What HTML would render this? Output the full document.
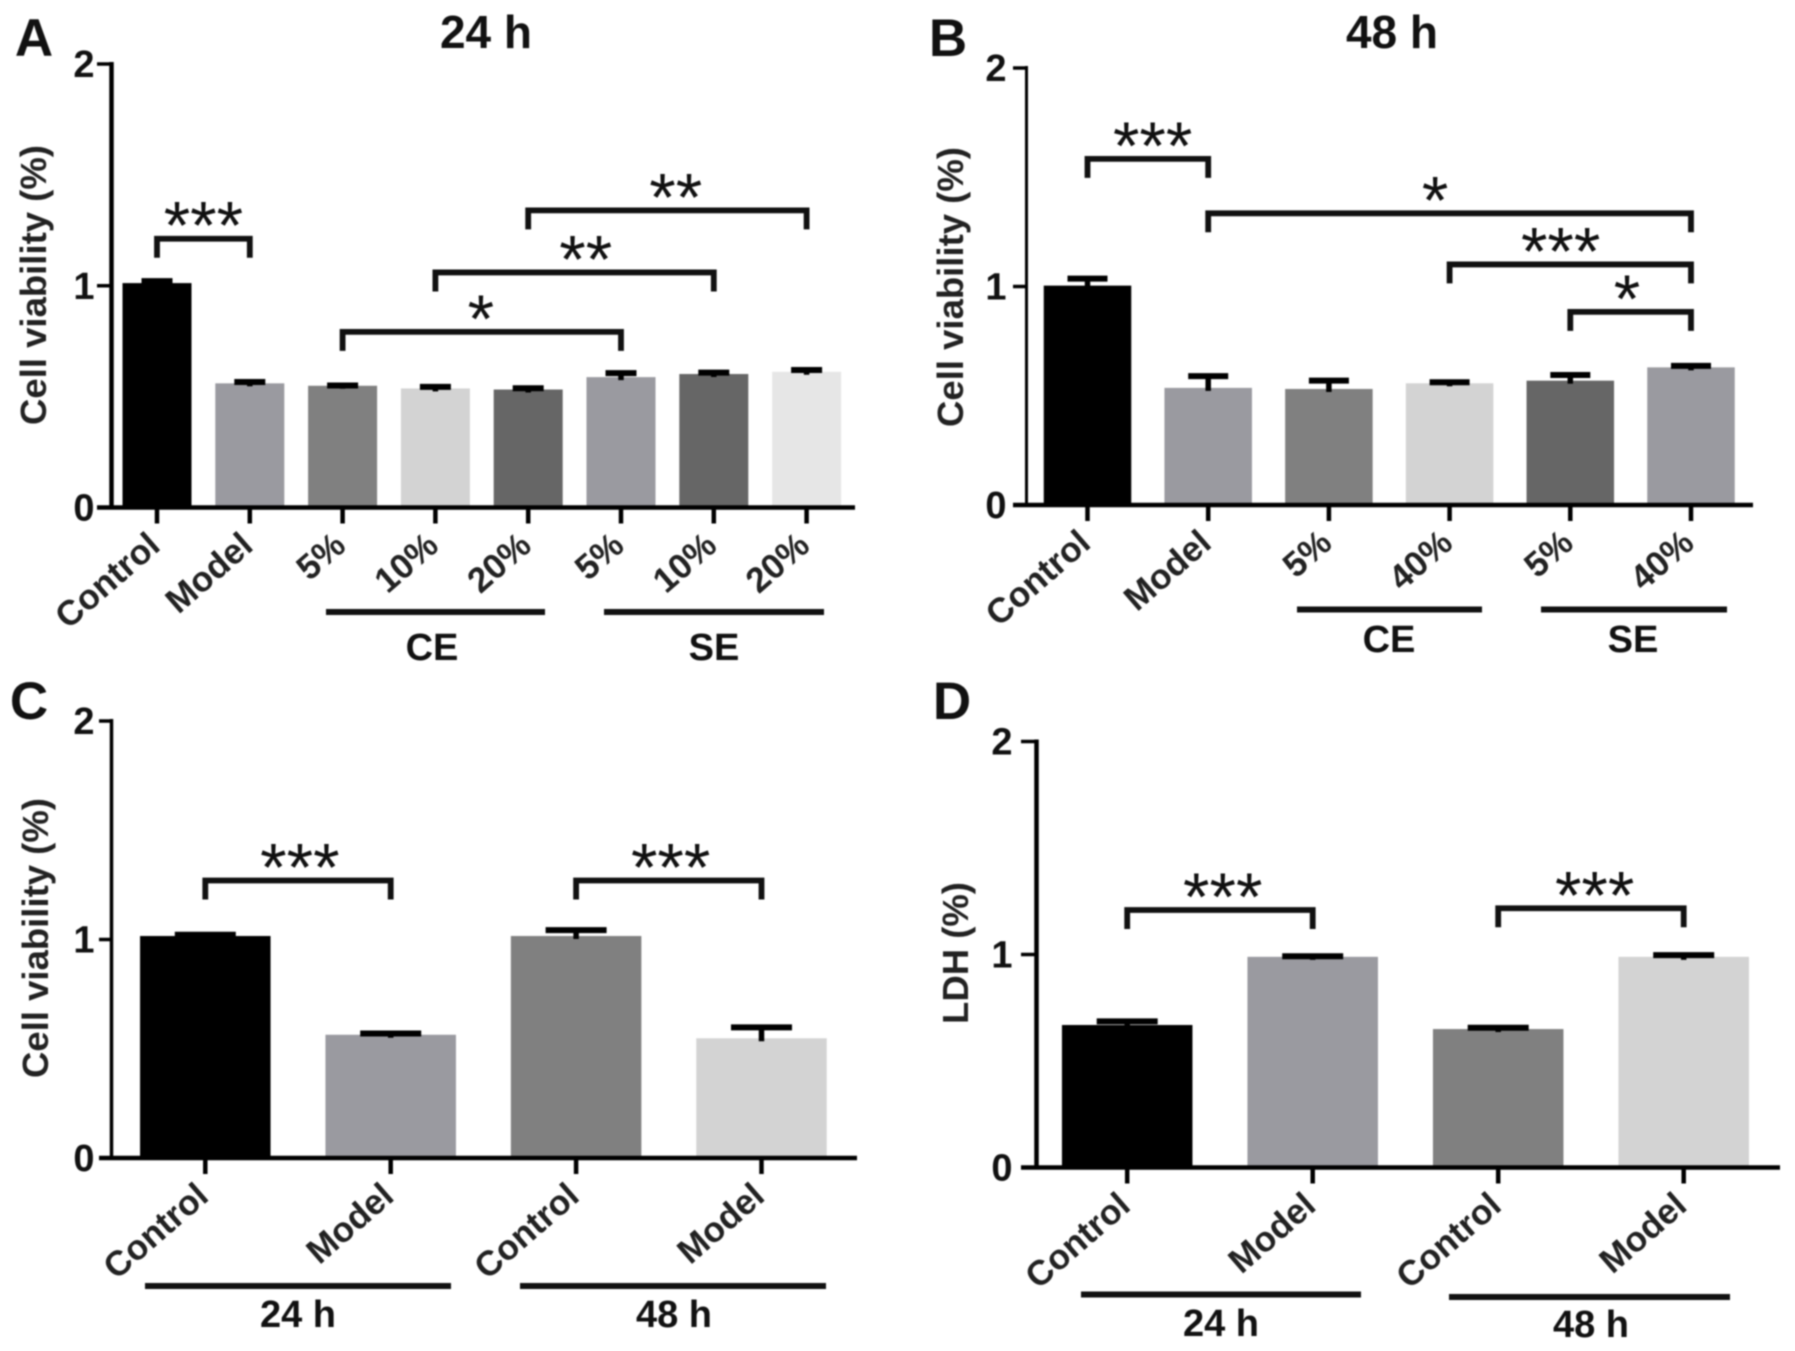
<!DOCTYPE html>
<html lang="en">
<head>
<meta charset="utf-8">
<title>Cell viability and LDH bar charts</title>
<style>
  html, body { margin: 0; padding: 0; background: #fff; }
  body { width: 1795px; height: 1351px; overflow: hidden; }
  svg { display: block; filter: blur(0.9px); }
  text { font-family: "Liberation Sans", sans-serif; fill: #111; }
  .letter { font-size: 53px; font-weight: 700; text-anchor: middle; }
  .title { font-size: 46px; font-weight: 700; text-anchor: middle; }
  .ytitle { font-size: 36.5px; font-weight: 700; text-anchor: middle; fill: #222; }
  .group { font-size: 38px; font-weight: 700; text-anchor: middle; }
  .ytick { font-size: 38px; font-weight: 700; text-anchor: end; }
  .xtick { font-size: 35px; font-weight: 700; text-anchor: end; fill: #222; }
  .star { font-size: 68px; font-weight: 400; text-anchor: middle; }
</style>
</head>
<body>
<svg id="fig" width="1795" height="1351" viewBox="0 0 1795 1351" xmlns="http://www.w3.org/2000/svg">
  <rect width="1795" height="1351" fill="#fff"/>

  <text class="letter" x="34" y="56">A</text>
  <text class="letter" x="948" y="56">B</text>
  <text class="letter" x="29" y="719">C</text>
  <text class="letter" x="952" y="719">D</text>

  <text class="title" x="486" y="48">24 h</text>
  <text class="title" x="1392" y="48">48 h</text>

  <text class="ytitle" transform="translate(46,285) rotate(-90)">Cell viability (%)</text>
  <text class="ytitle" transform="translate(963,287) rotate(-90)">Cell viability (%)</text>
  <text class="ytitle" transform="translate(48,938) rotate(-90)">Cell viability (%)</text>
  <text class="ytitle" transform="translate(968,953) rotate(-90)">LDH (%)</text>

  <g stroke="#111" stroke-width="6">
    <line x1="326" x2="545" y1="612" y2="612"/>
    <line x1="604" x2="824" y1="612" y2="612"/>
    <line x1="1297" x2="1482" y1="609.5" y2="609.5"/>
    <line x1="1541" x2="1727" y1="609.5" y2="609.5"/>
    <line x1="145" x2="451" y1="1286" y2="1286"/>
    <line x1="520" x2="826" y1="1286" y2="1286"/>
    <line x1="1081" x2="1361" y1="1294.5" y2="1294.5"/>
    <line x1="1449" x2="1730" y1="1297" y2="1297"/>
  </g>

  <text class="group" x="432" y="660">CE</text>
  <text class="group" x="714" y="660">SE</text>
  <text class="group" x="1389" y="652">CE</text>
  <text class="group" x="1633" y="652">SE</text>
  <text class="group" x="298" y="1327">24 h</text>
  <text class="group" x="674" y="1327">48 h</text>
  <text class="group" x="1221" y="1336">24 h</text>
  <text class="group" x="1591" y="1337">48 h</text>
</svg>

<script>
// Shared y-axis ticks
const yTicks = [0, 1, 2];

// Panel A: 24 h cell viability
const categoriesA = ['Control', 'Model', '5%', '10%', '20%', '5%', '10%', '20%'];
const valuesA = [1.012, 0.560, 0.549, 0.537, 0.532, 0.588, 0.602, 0.612];
const errorsA = [0.009, 0.006, 0.001, 0.007, 0.006, 0.018, 0.006, 0.008];
const fillsA = ['#000000', '#9a9aa0', '#808080', '#d3d3d3', '#666666', '#9a9aa0', '#666666', '#e6e6e6'];
const bracketLabelsA = ['***', '*', '**', '**'];
const bracketFromA = [0, 2, 3, 4];
const bracketToA = [1, 5, 6, 7];
const bracketLevelsA = [1.212, 0.792, 1.060, 1.340];
const bracketLabelAtA = [0.5, 3.49, 4.62, 5.59];

// Panel B: 48 h cell viability
const categoriesB = ['Control', 'Model', '5%', '40%', '5%', '40%'];
const valuesB = [1.004, 0.536, 0.531, 0.557, 0.569, 0.630];
const errorsB = [0.032, 0.054, 0.038, 0.005, 0.026, 0.007];
const fillsB = ['#000000', '#9a9aa0', '#808080', '#d3d3d3', '#666666', '#9a9aa0'];
const bracketLabelsB = ['***', '*', '***', '*'];
const bracketFromB = [0, 1, 3, 4];
const bracketToB = [1, 5, 5, 5];
const bracketLevelsB = [1.584, 1.335, 1.101, 0.884];
const bracketLabelAtB = [0.54, 2.88, 3.92, 4.47];

// Panel C: cell viability, 24 h and 48 h
const categoriesC = ['Control', 'Model', 'Control', 'Model'];
const valuesC = [1.016, 0.564, 1.016, 0.548];
const errorsC = [0.006, 0.006, 0.027, 0.050];
const fillsC = ['#000000', '#9a9aa0', '#808080', '#d3d3d3'];
const bracketLabelsC = ['***', '***'];
const bracketFromC = [0, 2];
const bracketToC = [1, 3];
const bracketLevelsC = [1.270, 1.270];
const bracketLabelAtC = [0.51, 2.51];

// Panel D: LDH, 24 h and 48 h
const categoriesD = ['Control', 'Model', 'Control', 'Model'];
const valuesD = [0.669, 0.989, 0.650, 0.989];
const errorsD = [0.017, 0.003, 0.006, 0.008];
const fillsD = ['#000000', '#9a9aa0', '#808080', '#d3d3d3'];
const bracketLabelsD = ['***', '***'];
const bracketFromD = [0, 2];
const bracketToD = [1, 3];
const bracketLevelsD = [1.209, 1.217];
const bracketLabelAtD = [0.515, 2.52];

const SVG_NS = 'http://www.w3.org/2000/svg';
const fig = document.getElementById('fig');

function addLine(parent, name, x1, y1, x2, y2, width) {
  const el = document.createElementNS(SVG_NS, 'line');
  
  
  el.setAttribute('x1', x1);
  el.setAttribute('y1', y1);
  el.setAttribute('x2', x2);
  el.setAttribute('y2', y2);
  el.setAttribute('stroke', '#000');
  el.setAttribute('stroke-width', width);
  parent.appendChild(el);
  return el;
}

function addText(parent, name, cls, str, x, y, transform) {
  const el = document.createElementNS(SVG_NS, 'text');
  
  
  el.setAttribute('class', cls);
  if (transform) {
    el.setAttribute('transform', transform);
  } else {
    el.setAttribute('x', x);
    el.setAttribute('y', y);
  }
  el.textContent = str;
  parent.appendChild(el);
  return el;
}

function drawPanel(p) {
  const g = document.createElementNS(SVG_NS, 'g');
  
  
  fig.appendChild(g);

  const xScale = i => p.firstCenter + p.step * i;
  const yScale = v => p.y0 - (p.y0 - p.y2) * v / 2;

  // bars
  p.values.forEach((v, i) => {
    const el = document.createElementNS(SVG_NS, 'rect');
    
    
    el.setAttribute('x', xScale(i) - p.barWidth / 2);
    el.setAttribute('y', yScale(v));
    el.setAttribute('width', p.barWidth);
    el.setAttribute('height', yScale(0) - yScale(v));
    el.setAttribute('fill', p.fills[i]);
    g.appendChild(el);
  });

  // error bars
  p.values.forEach((v, i) => {
    const cx = xScale(i);
    const top = yScale(v + p.errors[i]);
    addLine(g, 'panel-' + p.id + '-error-stem-' + (i + 1), cx, top, cx, yScale(v) + 3, 5.5);
    addLine(g, 'panel-' + p.id + '-error-cap-' + (i + 1), cx - p.capWidth / 2, top, cx + p.capWidth / 2, top, 6);
  });

  // axes
  addLine(g, 'panel-' + p.id + '-y-axis', p.axisX, p.y2 - 2, p.axisX, p.y0 + 2, p.yAxisWidth);
  addLine(g, 'panel-' + p.id + '-x-axis', p.axisStart, p.y0, p.axisEnd, p.y0, 4.5);

  // y ticks
  yTicks.forEach(t => {
    if (t > 0) {
      addLine(g, 'panel-' + p.id + '-y-tick-' + t, p.axisStart, yScale(t), p.axisX, yScale(t), 3.5);
    }
    addText(g, 'panel-' + p.id + '-y-tick-label-' + t, 'ytick', String(t), p.axisX - p.labelGap, yScale(t) + 13);
  });

  // x ticks
  p.categories.forEach((c, i) => {
    const cx = xScale(i);
    addLine(g, 'panel-' + p.id + '-x-tick-' + (i + 1), cx, p.y0, cx, p.y0 + 16, 4.5);
    const ax = cx + 5;
    const ay = p.y0 + 41;
    addText(g, 'panel-' + p.id + '-x-tick-label-' + (i + 1), 'xtick', c, 0, 0, 'translate(' + ax + ',' + ay + ') rotate(-41)');
  });

  // significance brackets
  p.bracketLabels.forEach((label, i) => {
    const xa = xScale(p.bracketFrom[i]);
    const xb = xScale(p.bracketTo[i]);
    const yb = yScale(p.bracketLevels[i]);
    const path = document.createElementNS(SVG_NS, 'path');
    
    
    path.setAttribute('d', 'M' + xa + ' ' + (yb + 19) + 'V' + yb + 'H' + xb + 'V' + (yb + 19));
    path.setAttribute('fill', 'none');
    path.setAttribute('stroke', '#111');
    path.setAttribute('stroke-width', 5.8);
    g.appendChild(path);
    addText(g, 'panel-' + p.id + '-significance-' + (i + 1), 'star', label, xScale(p.bracketLabelAt[i]), yb + 10);
  });
}

drawPanel({
  id: 'a', categories: categoriesA, values: valuesA, errors: errorsA, fills: fillsA,
  bracketLabels: bracketLabelsA, bracketFrom: bracketFromA, bracketTo: bracketToA, bracketLevels: bracketLevelsA, bracketLabelAt: bracketLabelAtA,
  axisX: 111.5, axisStart: 97, axisEnd: 855, y0: 507.5, y2: 64, yAxisWidth: 4.5,
  firstCenter: 157, step: 92.8, barWidth: 69, capWidth: 31, labelGap: 17
});
drawPanel({
  id: 'b', categories: categoriesB, values: valuesB, errors: errorsB, fills: fillsB,
  bracketLabels: bracketLabelsB, bracketFrom: bracketFromB, bracketTo: bracketToB, bracketLevels: bracketLevelsB, bracketLabelAt: bracketLabelAtB,
  axisX: 1026.5, axisStart: 1013, axisEnd: 1753, y0: 505, y2: 68, yAxisWidth: 3,
  firstCenter: 1087.5, step: 120.7, barWidth: 87.5, capWidth: 40, labelGap: 20
});
drawPanel({
  id: 'c', categories: categoriesC, values: valuesC, errors: errorsC, fills: fillsC,
  bracketLabels: bracketLabelsC, bracketFrom: bracketFromC, bracketTo: bracketToC, bracketLevels: bracketLevelsC, bracketLabelAt: bracketLabelAtC,
  axisX: 111.5, axisStart: 99, axisEnd: 857, y0: 1158, y2: 721, yAxisWidth: 3.5,
  firstCenter: 205.3, step: 185.4, barWidth: 130.5, capWidth: 61, labelGap: 17
});
drawPanel({
  id: 'd', categories: categoriesD, values: valuesD, errors: errorsD, fills: fillsD,
  bracketLabels: bracketLabelsD, bracketFrom: bracketFromD, bracketTo: bracketToD, bracketLevels: bracketLevelsD, bracketLabelAt: bracketLabelAtD,
  axisX: 1036.5, axisStart: 1021, axisEnd: 1780, y0: 1167.5, y2: 741.5, yAxisWidth: 4.5,
  firstCenter: 1127.2, step: 185.5, barWidth: 130.5, capWidth: 61, labelGap: 24
});
</script>
</body>
</html>
